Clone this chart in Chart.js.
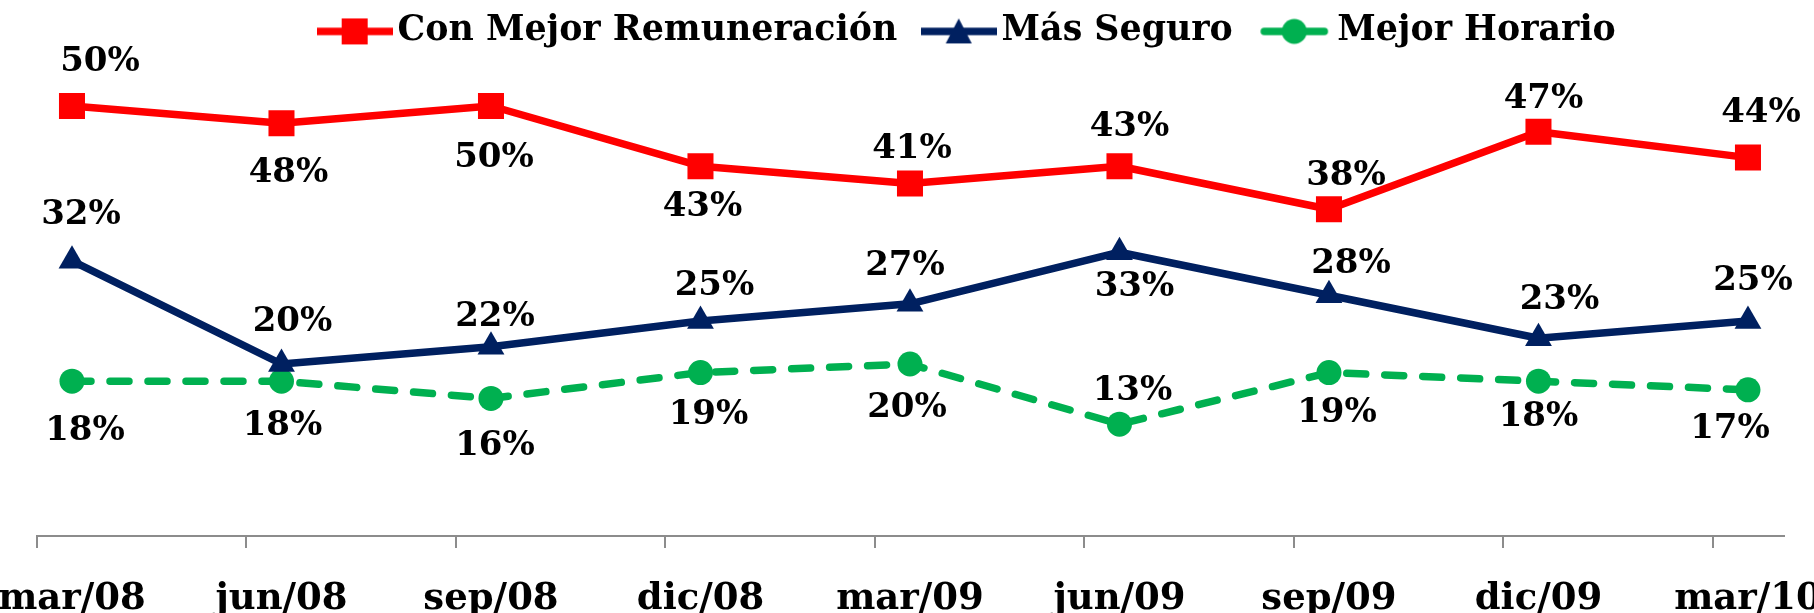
<!DOCTYPE html>
<html><head><meta charset="utf-8">
<script src="https://cdn.jsdelivr.net/npm/chart.js@4.4.0/dist/chart.umd.min.js"></script>
<style>html,body{margin:0;padding:0;background:#fff;overflow:hidden}#wrap{width:1814px;height:613px}</style>
</head><body><div id="wrap"><canvas id="c" width="1814" height="613"></canvas></div>
<script>
// ---- data ----
const categories = ['mar/08','jun/08','sep/08','dic/08','mar/09','jun/09','sep/09','dic/09','mar/10'];
const remuneracion = [50, 48, 50, 43, 41, 43, 38, 47, 44];
const seguro       = [32, 20, 22, 25, 27, 33, 28, 23, 25];
const horario      = [18, 18, 16, 19, 20, 13, 19, 18, 17];
const seriesNames  = ['Con Mejor Remuneración', 'Más Seguro', 'Mejor Horario'];

// ---- label placement: [dx, dy] in px from each point (style, not data) ----
const remuneracionLabelOffset = [[28,-44],[7,50],[3,52],[2,41],[2,-34],[10,-39],[17,-33],[5,-33],[13,-44]];
const seguroLabelOffset       = [[9,-46],[11,-42],[4,-30],[14,-35],[-5,-38],[15,35],[22,-31],[21,-38],[5,-40]];
const horarioLabelOffset      = [[13,50],[1,45],[4,48],[8,43],[-3,44],[13,-33],[8,41],[0,36],[-18,39]];

// ---- styles ----
const RED = '#FF0000', NAVY = '#002060', GREEN = '#00B050';
const FONT = '"DejaVu Serif", Georgia, serif';
const TICK_SHIFT = 0.167;     // tick marks sit left of the category points
const LABEL_OFFSET_PX = 35;
const LINE_W = 7.5;

function toPoints(vals) { return vals.map((v, i) => ({ x: i, y: v })); }

function legendSymbol(color, shape, round) {
  const cv = document.createElement('canvas');
  cv.width = 76; cv.height = 32;
  const c = cv.getContext('2d');
  c.strokeStyle = color; c.fillStyle = color; c.lineWidth = LINE_W;
  c.lineCap = round ? 'round' : 'butt';
  c.beginPath();
  c.moveTo(round ? 8 : 0, 16); c.lineTo(round ? 68 : 76, 16); c.stroke();
  c.beginPath();
  if (shape === 'rect') { c.rect(25, 3, 26, 26); }
  else if (shape === 'triangle') { c.moveTo(38, 3); c.lineTo(51, 28); c.lineTo(25, 28); c.closePath(); }
  else { c.arc(38, 16, 12.5, 0, Math.PI * 2); }
  c.fill();
  return cv;
}

const symbols = [legendSymbol(RED, 'rect', false), legendSymbol(NAVY, 'triangle', false), legendSymbol(GREEN, 'circle', true)];
const labelOffsets = [remuneracionLabelOffset, seguroLabelOffset, horarioLabelOffset];

const valueLabels = {
  id: 'valueLabels',
  afterDatasetsDraw(chart) {
    const ctx = chart.ctx;
    ctx.save();
    ctx.font = 'bold 34px ' + FONT;
    ctx.fillStyle = '#000';
    ctx.textAlign = 'center';
    ctx.textBaseline = 'middle';
    chart.data.datasets.forEach((ds, di) => {
      const meta = chart.getDatasetMeta(di);
      meta.data.forEach((pt, i) => {
        const [dx, dy] = labelOffsets[di][i];
        ctx.fillText(ds.data[i].y + '%', pt.x + dx, pt.y + dy);
      });
    });
    ctx.restore();
  }
};

const legendShift = {
  id: 'legendShift',
  afterLayout(chart) {
    const lg = chart.legend;
    if (lg) { lg.left += 62; lg.right += 62; }
  }
};

new Chart(document.getElementById('c'), {
  type: 'line',
  data: {
    datasets: [
      { label: seriesNames[0], data: toPoints(remuneracion), borderColor: RED, backgroundColor: RED,
        borderWidth: LINE_W, pointStyle: 'rect', pointRadius: 18.4, pointBorderWidth: 0, pointBackgroundColor: RED,
        borderJoinStyle: 'round' },
      { label: seriesNames[1], data: toPoints(seguro), borderColor: NAVY, backgroundColor: NAVY,
        borderWidth: LINE_W, pointStyle: 'triangle', pointRadius: 15.5, pointBorderWidth: 0, pointBackgroundColor: NAVY,
        borderJoinStyle: 'round' },
      { label: seriesNames[2], data: toPoints(horario), borderColor: GREEN, backgroundColor: GREEN,
        borderWidth: LINE_W, borderDash: [19, 19], borderCapStyle: 'round', pointStyle: 'circle', pointRadius: 12.5,
        pointBorderWidth: 0, pointBackgroundColor: GREEN, borderJoinStyle: 'round' }
    ]
  },
  options: {
    responsive: false,
    animation: false,
    devicePixelRatio: 1,
    layout: { padding: { left: 37, right: 30, top: -22, bottom: 0 } },
    plugins: {
      tooltip: { enabled: false },
      legend: {
        display: true,
        position: 'top',
        labels: {
          usePointStyle: true,
          pointStyleWidth: 51,
          padding: 36,
          color: '#000',
          font: { family: FONT, size: 34.8, weight: 'bold' },
          generateLabels(chart) {
            return chart.data.datasets.map((ds, i) => ({
              text: ds.label, pointStyle: symbols[i], fillStyle: ds.borderColor,
              strokeStyle: ds.borderColor, lineWidth: 0, hidden: false, datasetIndex: i, fontColor: '#000'
            }));
          }
        }
      }
    },
    scales: {
      x: {
        type: 'linear',
        min: -TICK_SHIFT,
        max: categories.length - 1 + 0.172,
        afterBuildTicks(scale) {
          scale.ticks = categories.map((_, i) => ({ value: i - TICK_SHIFT }));
        },
        afterFit(scale) {
          scale.height = 77;
          scale.paddingLeft = 0;
          scale.paddingRight = 0;
        },
        border: { display: true, color: '#8c8c8c', width: 2 },
        grid: { display: true, drawOnChartArea: false, drawTicks: true, tickLength: 12, color: '#8c8c8c', lineWidth: 2 },
        ticks: {
          autoSkip: false, maxRotation: 0, minRotation: 0,
          labelOffset: LABEL_OFFSET_PX,
          padding: 29,
          color: '#000',
          font: { family: FONT, size: 37, weight: 'bold' },
          callback: (v, i) => categories[i]
        }
      },
      y: {
        display: false,
        min: 0,
        max: 55.49
      }
    }
  },
  plugins: [valueLabels, legendShift]
});
</script>
</body></html>
